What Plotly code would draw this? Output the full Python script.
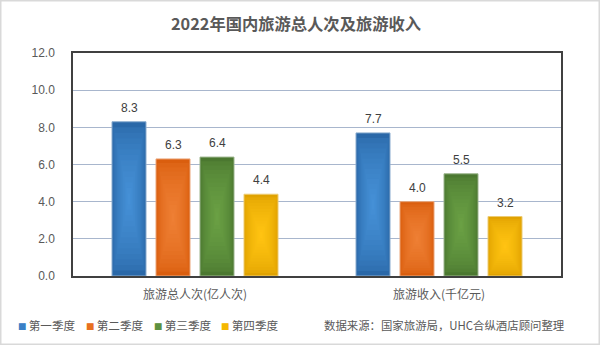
import plotly.graph_objects as go

# ---------------- data ----------------
categories = ["旅游总人次(亿人次)", "旅游收入(千亿元)"]
series_names = ["第一季度", "第二季度", "第三季度", "第四季度"]
q1_values = [8.3, 7.7]
q2_values = [6.3, 4.0]
q3_values = [6.4, 5.5]
q4_values = [4.4, 3.2]
y_tick_values = [0, 2, 4, 6, 8, 10, 12]
title_text = "2022年国内旅游总人次及旅游收入"
source_text = "数据来源：国家旅游局，UHC合纵酒店顾问整理"

# ---------------- style ----------------
edge_colors = ["#2A68A8", "#DA5E0E", "#4B7830", "#E0A200"]
center_colors = ["#4590D6", "#EE7F34", "#6AA044", "#FFC312"]
legend_colors = ["#3A80C6", "#E8701F", "#5E9140", "#F5B800"]

W, H = 600, 345
L, R, T, B = 73, 39, 53, 69
plot_w = W - L - R
plot_h = H - T - B
unit_px = plot_w / 2.0
bar_w = 34 / unit_px
slot = 44 / unit_px
N_LAYERS = 14

CJK = "Noto Sans CJK SC, Liberation Sans, sans-serif"
NUM = "Liberation Sans, Noto Sans CJK SC, sans-serif"


def hex2rgb(h):
    h = h.lstrip("#")
    return tuple(int(h[i:i + 2], 16) for i in (0, 2, 4))


def mix(c1, c2, t):
    a, b = hex2rgb(c1), hex2rgb(c2)
    return "rgb(%d,%d,%d)" % tuple(round(a[i] + (b[i] - a[i]) * t) for i in range(3))


def px_x(px):
    return (px - L) / plot_w


def px_y(py):
    return (H - B - py) / plot_h


fig = go.Figure()
all_values = [q1_values, q2_values, q3_values, q4_values]
for i, (name, vals) in enumerate(zip(series_names, all_values)):
    centre = (i - 1.5) * slot
    for k in range(N_LAYERS):
        t = k / N_LAYERS
        inset = t * bar_w / 2
        frac = (k / (N_LAYERS - 1)) ** 0.6
        fig.add_bar(
            x=categories,
            y=[v * (1 - t) for v in vals],
            base=[v * t / 2 for v in vals],
            width=bar_w - 2 * inset,
            offset=centre - bar_w / 2 + inset,
            name=name,
            marker=dict(
                color=mix(edge_colors[i], center_colors[i], frac),
                line=dict(width=1 if k == 0 else 0,
                          color=mix(edge_colors[i], "#FFFFFF", 0.45)),
            ),
            hoverinfo="skip" if k else "x+y+name",
            showlegend=False,
        )

# value labels just above each bar
for i, vals in enumerate(all_values):
    centre = (i - 1.5) * slot
    for ci, v in enumerate(vals):
        fig.add_annotation(
            x=ci + centre, y=v, xref="x", yref="y",
            text=f"{v:.1f}", showarrow=False,
            yanchor="bottom", xanchor="center", yshift=5,
            font=dict(family=NUM, size=12, color="#404040"),
        )

fig.update_layout(
    width=W, height=H,
    margin=dict(l=L, r=R, t=T, b=B),
    paper_bgcolor="white", plot_bgcolor="white",
    barmode="overlay",
    showlegend=False,
    title=dict(text=f"<b>{title_text}</b>", x=296 / W, xref="container", xanchor="center",
               y=1 - 24 / H, yref="container", yanchor="middle",
               font=dict(family=CJK, size=16.3, color="#595959")),
)
fig.update_yaxes(
    range=[0, 12], tickvals=y_tick_values, tickformat=".1f",
    showgrid=True, gridcolor="#A8B6CD", gridwidth=1,
    showline=True, mirror=True, linecolor="#404040", linewidth=1.5,
    zeroline=False, ticks="", ticklabelstandoff=14,
    tickfont=dict(family=NUM, size=12, color="#595959"),
)
fig.update_xaxes(
    type="category", range=[-0.5, 1.5],
    showline=True, mirror=True, linecolor="#404040", linewidth=1.5,
    ticks="", showgrid=False, ticklabelstandoff=7,
    tickfont=dict(family=CJK, size=12, color="#595959"),
)

# legend drawn as text annotations
legend_x = [16, 84, 152, 219]
for name, col, lx in zip(series_names, legend_colors, legend_x):
    fig.add_annotation(
        text=(f'<span style="color:{col};font-size:8.5px">■</span>'
              f'<span style="font-size:10px"> </span>{name}'),
        x=px_x(lx), y=px_y(325), xref="paper", yref="paper",
        xanchor="left", yanchor="middle", showarrow=False,
        font=dict(family=CJK, size=11.6, color="#595959"),
    )
fig.add_annotation(
    text=source_text, x=px_x(322), y=px_y(325), xref="paper", yref="paper",
    xanchor="left", yanchor="middle", showarrow=False,
    font=dict(family=CJK, size=11.4, color="#595959"),
)

# outer chart border
fig.add_shape(type="rect", xref="paper", yref="paper",
              x0=px_x(0.75), x1=px_x(W - 0.75), y0=px_y(H - 0.75), y1=px_y(0.75),
              line=dict(color="#D9D9D9", width=1.5), layer="below")

fig.write_html("out.html")
